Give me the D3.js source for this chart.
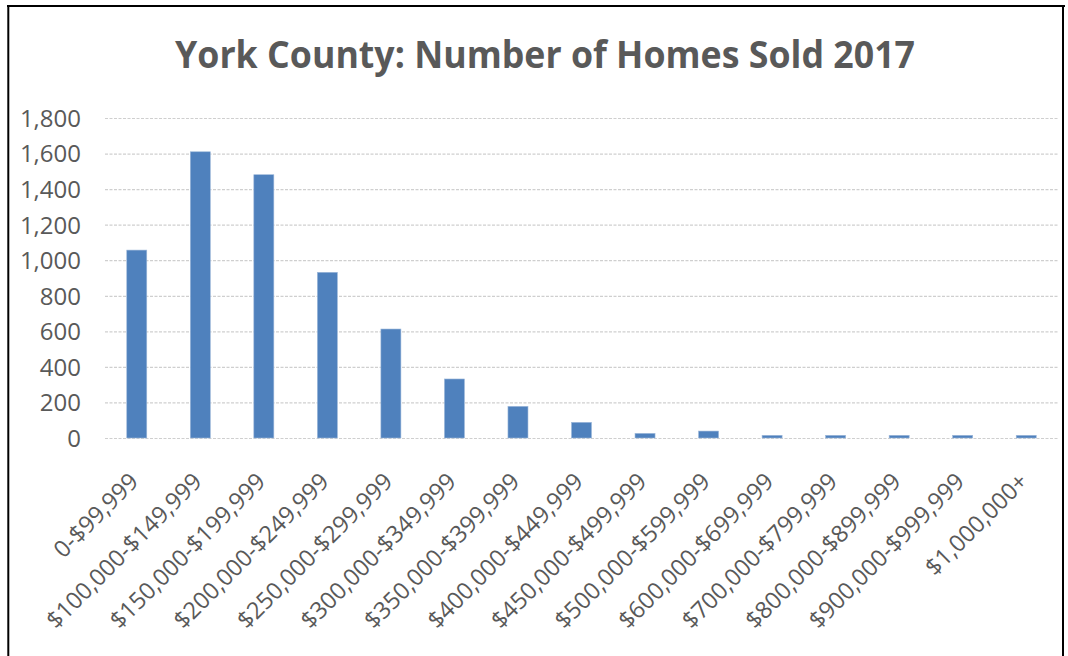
<!DOCTYPE html>
<html>
<head>
<meta charset="utf-8">
<script src="https://cdn.jsdelivr.net/npm/d3@7"></script>
<style>
  html, body { margin: 0; padding: 0; background: #fff; }
  svg { display: block; }
</style>
</head>
<body>
<svg id="chart" width="1068" height="656"></svg>
<script>
const title = "York County: Number of Homes Sold 2017";
const categories = [
  "0-$99,999", "$100,000-$149,999", "$150,000-$199,999", "$200,000-$249,999",
  "$250,000-$299,999", "$300,000-$349,999", "$350,000-$399,999", "$400,000-$449,999",
  "$450,000-$499,999", "$500,000-$599,999", "$600,000-$699,999", "$700,000-$799,999",
  "$800,000-$899,999", "$900,000-$999,999", "$1,000,000+"
];
const homesSold = [1057, 1610, 1481, 932, 613, 332, 178, 88, 26, 39, 15, 15, 15, 15, 15];
const yTicks = [0, 200, 400, 600, 800, 1000, 1200, 1400, 1600, 1800];

const svg = d3.select("#chart");
const textColor = "#595959";
const font = "'Open Sans', 'Liberation Sans', sans-serif";

// frame border
svg.append("line").attr("x1", 7).attr("x2", 1065).attr("y1", 6).attr("y2", 6)
  .attr("stroke", "#000").attr("stroke-width", 2);
svg.append("line").attr("x1", 8.3).attr("x2", 8.3).attr("y1", 5).attr("y2", 656)
  .attr("stroke", "#000").attr("stroke-width", 2);
svg.append("line").attr("x1", 1063).attr("x2", 1063).attr("y1", 5).attr("y2", 656)
  .attr("stroke", "#000").attr("stroke-width", 2);

const x = d3.scaleBand().domain(categories).range([105, 1058])
  .paddingInner(0.685).paddingOuter(0.3425);
const y = d3.scaleLinear().domain([0, 1800]).range([438, 118]);

// gridlines
svg.append("g").selectAll("line").data(yTicks).join("line")
  .attr("x1", 105).attr("x2", 1058)
  .attr("y1", d => y(d) + 0.5).attr("y2", d => y(d) + 0.5)
  .attr("stroke", "#cfcfcf").attr("stroke-width", 1.2)
  .attr("stroke-dasharray", "3,1.5");

// y axis labels
const yAxis = d3.axisLeft(y).tickValues(yTicks).tickFormat(d3.format(",")).tickSize(0).tickPadding(0);
const yg = svg.append("g").attr("transform", "translate(81,0)").call(yAxis);
yg.select(".domain").remove();
yg.selectAll("text").attr("fill", textColor).attr("font-size", 24)
  .attr("font-family", font).attr("dy", "0.35em");

// bars
svg.append("g").selectAll("rect").data(homesSold).join("rect")
  .attr("x", (d, i) => x(categories[i]))
  .attr("width", x.bandwidth())
  .attr("y", d => y(d))
  .attr("height", d => y(0) - y(d))
  .attr("fill", "#4f81bd")
  .attr("stroke", "#9db8da").attr("stroke-width", 0.6);

// x axis labels
const xAxis = d3.axisBottom(x).tickSize(0).tickPadding(0);
const xg = svg.append("g").attr("transform", "translate(0,438)").call(xAxis);
xg.select(".domain").remove();
xg.selectAll(".tick text")
  .attr("fill", textColor).attr("font-size", 23.5).attr("font-family", font)
  .attr("text-anchor", "end").attr("dy", 0).attr("y", 0)
  .attr("transform", "translate(3,45) rotate(-45)");

// title
svg.append("text").text(title)
  .attr("x", 545).attr("y", 68)
  .attr("text-anchor", "middle")
  .attr("font-family", font).attr("font-weight", 700).attr("font-size", 37)
  .attr("fill", textColor)
  .attr("textLength", 740).attr("lengthAdjust", "spacingAndGlyphs");
</script>
</body>
</html>
